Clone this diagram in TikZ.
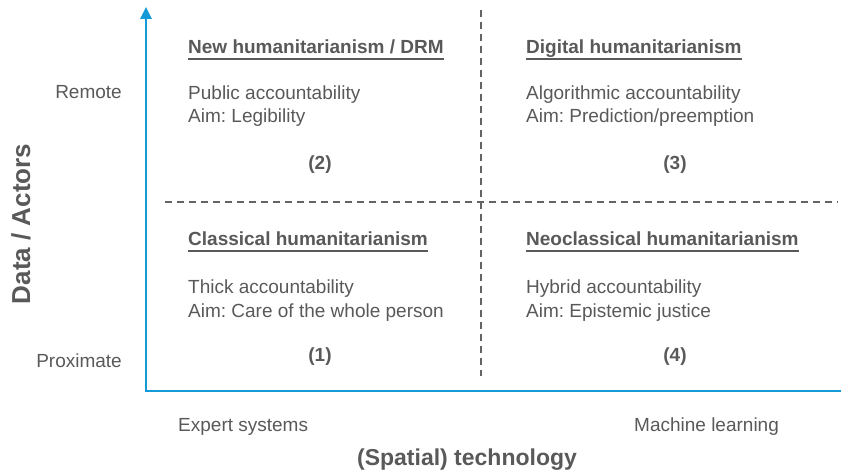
\documentclass[tikz,border=0pt]{standalone}
\usepackage{fontspec}
\setmainfont{Liberation Sans}
\usetikzlibrary{arrows.meta}
\frenchspacing
\definecolor{axisblue}{RGB}{20,154,214}
\definecolor{txtgray}{RGB}{89,89,89}
\definecolor{dashgray}{RGB}{100,100,100}
\tikzset{
  axisline/.style={draw=axisblue,line width=2.6pt,line join=miter,
    {Triangle[width=11pt,length=12pt]}-{Triangle[width=11pt,length=12pt]}},
  divider/.style={draw=dashgray,line width=1.4pt,dash pattern=on 7pt off 5pt},
  body/.style={anchor=base west,inner sep=0pt,text=txtgray,font=\fontsize{19}{23}\selectfont\frenchspacing},
  bodyr/.style={anchor=base east,inner sep=0pt,text=txtgray,font=\fontsize{19}{23}\selectfont},
  head/.style={anchor=base west,inner sep=0pt,text=txtgray,font=\fontsize{19}{23}\selectfont\bfseries},
  num/.style={anchor=base,inner sep=0pt,text=txtgray,font=\fontsize{19}{23}\selectfont\bfseries},
  uline/.style={draw=txtgray,line width=1.8pt},
  axtitle/.style={inner sep=0pt,text=txtgray,font=\bfseries},
}
\begin{document}
\begin{tikzpicture}[x=1pt,y=-1pt]
\useasboundingbox (0,0) rectangle (841,473);
\clip (0,0) rectangle (841,473);
% axes
\coordinate (ytop) at (146,7);
\coordinate (orig) at (146,391);
\coordinate (xend) at (853,391);
\draw[axisline] (ytop) -- (orig) -- (xend);
% dividers
\coordinate (hl) at (165,202);
\coordinate (hr) at (838,202);
\coordinate (vt) at (481,10);
\coordinate (vb) at (481,376);
\draw[divider] (hl) -- (hr);
\draw[divider] (vt) -- (vb);
% quadrant 2
\node[head] (h2) at (188,54) {New humanitarianism / DRM};
\draw[uline] ([yshift=-5pt]h2.base west) -- ([yshift=-5pt]h2.base east);
\node[body] (a2) at (188,100) {Public accountability};
\node[body] (b2) at (188,123) {Aim: Legibility};
\node[num] (n2) at (320,170) {(2)};
% quadrant 3
\node[head] (h3) at (526,54) {Digital humanitarianism};
\draw[uline] ([yshift=-5pt]h3.base west) -- ([yshift=-5pt]h3.base east);
\node[body] (a3) at (526,100) {Algorithmic accountability};
\node[body] (b3) at (526,123) {Aim: Prediction/preemption};
\node[num] (n3) at (675,170) {(3)};
% quadrant 1
\node[head] (h1) at (188,246) {Classical humanitarianism};
\draw[uline] ([yshift=-5pt]h1.base west) -- ([yshift=-5pt]h1.base east);
\node[body] (a1) at (188,294) {Thick accountability};
\node[body] (b1) at (188,317) {Aim: Care of the whole person};
\node[num] (n1) at (320,361) {(1)};
% quadrant 4
\node[head] (h4) at (526,246) {Neoclassical humanitarianism};
\draw[uline] ([yshift=-5pt]h4.base west) -- ([yshift=-5pt]h4.base east);
\node[body] (a4) at (526,294) {Hybrid accountability};
\node[body] (b4) at (526,317) {Aim: Epistemic justice};
\node[num] (n4) at (675,361) {(4)};
% axis labels
\node[bodyr] (remote) at (122,99) {Remote};
\node[bodyr] (prox) at (122,367) {Proximate};
\node[body] (expert) at (178,431) {Expert systems};
\node[body] (ml) at (634,431) {Machine learning};
\node[axtitle,font=\fontsize{23}{27}\selectfont\bfseries] (xt) at (467,460) {(Spatial) technology};
\node[axtitle,font=\fontsize{26}{30}\selectfont\bfseries,rotate=90] (yt) at (21,224) {Data / Actors};
\end{tikzpicture}
\end{document}
